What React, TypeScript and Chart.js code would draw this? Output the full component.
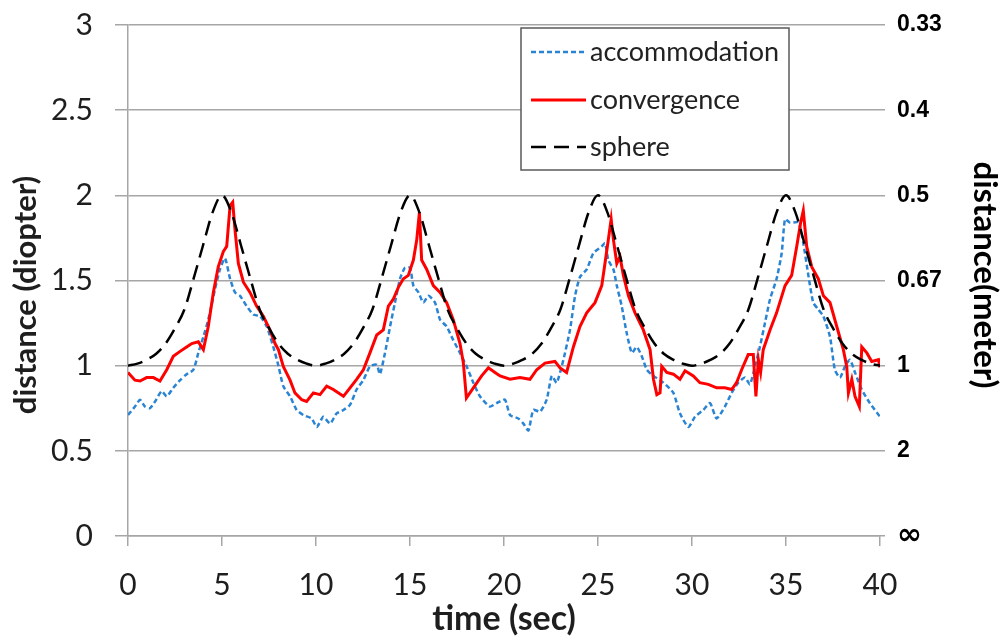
import React, { useEffect, useRef } from 'react';
import { Chart, registerables } from 'chart.js';

Chart.register(...registerables);

const seriesLabels = ['accommodation', 'convergence', 'sphere'];
const axisTitles = { x: 'time (sec)', left: 'distance (diopter)', right: 'distance(meter)' };

const accTime = [0, 0.37, 0.64, 0.9, 1.17, 1.44, 1.79, 2.06, 2.41, 2.77, 3.12, 3.48, 3.74, 4.01, 4.27, 4.63, 4.89, 5.16, 5.43, 5.69, 5.96, 6.31, 6.67, 7.02, 7.38, 7.73, 8.0, 8.26, 8.62, 8.97, 9.33, 9.77, 10.04, 10.39, 10.75, 11.1, 11.46, 11.81, 12.16, 12.52, 12.87, 13.23, 13.4, 13.67, 13.94, 14.2, 14.47, 14.73, 15.0, 15.18, 15.45, 15.71, 15.98, 16.33, 16.6, 16.95, 17.3, 17.66, 18.01, 18.37, 18.72, 19.25, 19.61, 20.05, 20.32, 20.76, 21.03, 21.3, 21.56, 21.92, 22.27, 22.54, 22.8, 23.16, 23.51, 23.78, 24.04, 24.4, 24.75, 25.2, 25.37, 25.55, 25.82, 26.0, 26.26, 26.53, 26.8, 27.06, 27.33, 27.6, 27.95, 28.48, 29.01, 29.36, 29.81, 30.16, 30.6, 30.96, 31.31, 31.75, 32.11, 32.46, 32.82, 33.08, 33.35, 33.61, 33.88, 34.15, 34.5, 34.77, 34.95, 35.21, 35.66, 35.92, 36.19, 36.45, 36.72, 36.99, 37.34, 37.6, 37.87, 38.14, 38.4, 38.67, 39.03, 39.46, 40.0];
const accVal = [0.71, 0.76, 0.80, 0.76, 0.75, 0.79, 0.85, 0.82, 0.87, 0.915, 0.95, 0.976, 1.075, 1.17, 1.27, 1.45, 1.565, 1.63, 1.51, 1.43, 1.41, 1.35, 1.30, 1.29, 1.23, 1.11, 1.0, 0.88, 0.82, 0.74, 0.71, 0.69, 0.64, 0.70, 0.66, 0.72, 0.74, 0.77, 0.86, 0.915, 0.996, 1.005, 0.95, 1.075, 1.23, 1.37, 1.51, 1.575, 1.575, 1.47, 1.43, 1.37, 1.41, 1.37, 1.27, 1.23, 1.15, 1.075, 0.996, 0.90, 0.82, 0.76, 0.78, 0.80, 0.71, 0.69, 0.66, 0.62, 0.74, 0.73, 0.80, 0.94, 0.90, 1.035, 1.21, 1.41, 1.52, 1.565, 1.66, 1.70, 1.72, 1.62, 1.565, 1.47, 1.35, 1.19, 1.075, 1.11, 1.055, 0.976, 0.94, 0.90, 0.84, 0.72, 0.64, 0.70, 0.74, 0.78, 0.69, 0.76, 0.84, 0.90, 0.93, 0.89, 0.996, 1.11, 1.25, 1.39, 1.51, 1.66, 1.86, 1.84, 1.84, 1.72, 1.53, 1.37, 1.33, 1.29, 1.17, 0.976, 0.93, 0.996, 1.035, 0.96, 0.86, 0.78, 0.70];

const convTime = [0, 0.37, 0.64, 0.99, 1.35, 1.7, 2.06, 2.41, 2.77, 3.12, 3.39, 3.74, 4.01, 4.27, 4.54, 4.8, 5.07, 5.25, 5.43, 5.57, 5.69, 5.87, 6.14, 6.49, 6.84, 7.2, 7.55, 7.82, 8.0, 8.26, 8.62, 8.88, 9.24, 9.5, 9.86, 10.21, 10.57, 10.92, 11.46, 11.81, 12.16, 12.52, 12.87, 13.23, 13.58, 13.85, 14.11, 14.38, 14.65, 14.91, 15.18, 15.36, 15.5, 15.62, 15.89, 16.24, 16.6, 16.95, 17.3, 17.66, 17.84, 18.0, 18.37, 18.81, 19.17, 19.52, 19.79, 20.32, 20.85, 21.38, 21.74, 22.18, 22.71, 22.98, 23.33, 23.69, 24.04, 24.4, 24.84, 25.2, 25.37, 25.55, 25.7, 25.82, 26.0, 26.17, 26.35, 26.62, 26.97, 27.41, 27.77, 27.95, 28.13, 28.3, 28.39, 28.66, 29.01, 29.36, 29.63, 30.07, 30.42, 30.87, 31.31, 31.75, 32.11, 32.37, 32.64, 32.99, 33.26, 33.4, 33.53, 33.65, 33.79, 34.15, 34.5, 34.95, 35.3, 35.57, 35.78, 35.92, 36.1, 36.37, 36.72, 36.99, 37.34, 37.7, 38.05, 38.23, 38.32, 38.5, 38.67, 38.9, 39.03, 39.3, 39.56, 39.92, 40.0];
const convVal = [0.96, 0.915, 0.91, 0.93, 0.93, 0.91, 0.976, 1.055, 1.084, 1.11, 1.13, 1.14, 1.094, 1.23, 1.43, 1.58, 1.67, 1.70, 1.94, 1.96, 1.80, 1.60, 1.49, 1.43, 1.35, 1.29, 1.21, 1.13, 1.094, 0.996, 0.915, 0.84, 0.80, 0.79, 0.84, 0.83, 0.88, 0.86, 0.82, 0.87, 0.92, 0.976, 1.075, 1.18, 1.21, 1.35, 1.39, 1.46, 1.51, 1.53, 1.62, 1.74, 1.90, 1.62, 1.565, 1.47, 1.43, 1.37, 1.27, 1.13, 1.015, 0.81, 0.87, 0.94, 0.987, 0.96, 0.94, 0.92, 0.93, 0.92, 0.976, 1.015, 1.025, 0.987, 0.96, 1.11, 1.23, 1.31, 1.37, 1.47, 1.60, 1.74, 1.86, 1.74, 1.60, 1.64, 1.53, 1.41, 1.31, 1.21, 1.094, 0.92, 0.83, 0.84, 0.996, 0.96, 0.95, 0.92, 0.97, 0.94, 0.90, 0.89, 0.87, 0.87, 0.86, 0.90, 0.976, 1.065, 1.065, 0.82, 1.035, 0.96, 1.094, 1.21, 1.31, 1.47, 1.53, 1.70, 1.84, 1.91, 1.70, 1.58, 1.51, 1.41, 1.37, 1.23, 1.094, 0.996, 0.84, 0.92, 0.82, 0.76, 1.11, 1.075, 1.025, 1.035, 0.99];

const sphereTime = [0, 0.5, 1, 1.5, 2, 2.5, 3, 3.5, 4, 4.5, 5, 5.5, 6, 6.5, 7, 7.5, 8, 8.5, 9, 9.5, 10, 10.5, 11, 11.5, 12, 12.5, 13, 13.5, 14, 14.5, 15, 15.5, 16, 16.5, 17, 17.5, 18, 18.5, 19, 19.5, 20, 20.5, 21, 21.5, 22, 22.5, 23, 23.5, 24, 24.5, 25, 25.5, 26, 26.5, 27, 27.5, 28, 28.5, 29, 29.5, 30, 30.5, 31, 31.5, 32, 32.5, 33, 33.5, 34, 34.5, 35, 35.5, 36, 36.5, 37, 37.5, 38, 38.5, 39, 39.5, 40];
const sphereVal = [
  1.0, 1.012, 1.035, 1.07, 1.13, 1.22, 1.33, 1.515, 1.71, 1.9, 2.0, 1.9, 1.71, 1.515, 1.33, 1.22, 1.13, 1.07, 1.035, 1.012,
  1.0, 1.012, 1.035, 1.07, 1.13, 1.22, 1.33, 1.515, 1.71, 1.9, 2.0, 1.9, 1.71, 1.515, 1.33, 1.22, 1.13, 1.07, 1.035, 1.012,
  1.0, 1.012, 1.035, 1.07, 1.13, 1.22, 1.33, 1.515, 1.71, 1.9, 2.0, 1.9, 1.71, 1.515, 1.33, 1.22, 1.13, 1.07, 1.035, 1.012,
  1.0, 1.012, 1.035, 1.07, 1.13, 1.22, 1.33, 1.515, 1.71, 1.9, 2.0, 1.9, 1.71, 1.515, 1.33, 1.22, 1.13, 1.07, 1.035, 1.012,
  1.0,
];

const rightTickValues = [0, 0.5, 1, 1.5, 2, 2.5, 3];
const rightTickLabels = ['∞', '2', '1', '0.67', '0.5', '0.4', '0.33'];

const toPoints = (xs: number[], ys: number[]) => xs.map((x, i) => ({ x, y: ys[i] }));

const GRID = '#a6a6a6';
const TEXT = '#1e1e1e';
const FONT = 'Lato, "Open Sans", sans-serif';

const legendPlugin = {
  id: 'boxLegend',
  afterDatasetsDraw(chart: any) {
    const { ctx, chartArea } = chart;
    const bx = chartArea.left + 393;
    const by = chartArea.top + 3;
    const bw = 268;
    const bh = 142;
    ctx.save();
    ctx.fillStyle = '#ffffff';
    ctx.fillRect(bx, by, bw, bh);
    ctx.strokeStyle = '#5a5a5a';
    ctx.lineWidth = 1.5;
    ctx.strokeRect(bx, by, bw, bh);
    const rowY = [24, 72, 119];
    chart.data.datasets.forEach((ds: any, i: number) => {
      const y = by + rowY[i];
      ctx.beginPath();
      ctx.strokeStyle = ds.borderColor;
      ctx.lineWidth = ds.borderWidth;
      ctx.setLineDash(ds.legendDash || []);
      ctx.moveTo(bx + 10, y);
      ctx.lineTo(bx + 65, y);
      ctx.stroke();
      ctx.setLineDash([]);
      ctx.fillStyle = '#222';
      ctx.font = `27px ${FONT}`;
      ctx.textBaseline = 'middle';
      ctx.textAlign = 'left';
      ctx.fillText(ds.label, bx + 69, y);
    });
    ctx.restore();
  },
};

const titlePlugin = {
  id: 'axisTitles',
  afterDraw(chart: any) {
    const { ctx, chartArea } = chart;
    ctx.save();
    ctx.textAlign = 'center';
    ctx.textBaseline = 'middle';
    ctx.fillStyle = TEXT;
    ctx.font = `bold 31px ${FONT}`;
    ctx.save();
    ctx.translate(26, chartArea.top + 270);
    ctx.rotate(-Math.PI / 2);
    ctx.fillText(axisTitles.left, 0, 0);
    ctx.restore();
    ctx.fillStyle = '#000';
    ctx.font = `bold 33px ${FONT}`;
    ctx.save();
    ctx.translate(985, chartArea.top + 250);
    ctx.rotate(Math.PI / 2);
    ctx.fillText(axisTitles.right, 0, 0);
    ctx.restore();
    ctx.fillStyle = TEXT;
    ctx.font = `bold 34px ${FONT}`;
    ctx.fillText(axisTitles.x, (chartArea.left + chartArea.right) / 2, chartArea.bottom + 83);
    ctx.restore();
  },
};

export default function App() {
  const ref = useRef<HTMLCanvasElement | null>(null);

  useEffect(() => {
    if (!ref.current) return;
    const chart = new Chart(ref.current, {
      type: 'line',
      data: {
        datasets: [
          {
            label: seriesLabels[0],
            data: toPoints(accTime, accVal),
            borderColor: '#2a84d4',
            borderWidth: 2.5,
            borderDash: [5, 3],
            legendDash: [5, 3],
            pointRadius: 0,
            tension: 0.2,
            order: 3,
          } as any,
          {
            label: seriesLabels[1],
            data: toPoints(convTime, convVal),
            borderColor: '#ff0000',
            borderWidth: 3,
            pointRadius: 0,
            tension: 0,
            order: 2,
          } as any,
          {
            label: seriesLabels[2],
            data: toPoints(sphereTime, sphereVal),
            borderColor: '#000000',
            borderWidth: 2.5,
            borderDash: [15, 8],
            legendDash: [15, 8],
            pointRadius: 0,
            cubicInterpolationMode: 'monotone',
            order: 1,
          } as any,
        ],
      },
      options: {
        animation: false,
        responsive: false,
        devicePixelRatio: 1,
        layout: { padding: { top: 25, left: 0, right: 0, bottom: 0 } },
        plugins: { legend: { display: false }, tooltip: { enabled: false } },
        scales: {
          x: {
            type: 'linear',
            min: 0,
            max: 40,
            afterFit: (s: any) => { s.height = 106; s.paddingLeft = 0; s.paddingRight = 0; },
            ticks: { stepSize: 5, color: TEXT, font: { family: FONT, size: 30 }, padding: 21, maxRotation: 0 },
            grid: { drawOnChartArea: false, drawTicks: true, tickLength: 10, color: GRID, lineWidth: 1.5 },
            border: { display: true, color: GRID, width: 1.5 },
            title: { display: false },
          },
          y: {
            type: 'linear',
            position: 'left',
            min: 0,
            max: 3,
            afterFit: (s: any) => { s.width = 128; s.paddingTop = 0; s.paddingBottom = 0; },
            ticks: {
              stepSize: 0.5,
              color: TEXT,
              font: { family: FONT, size: 30 },
              padding: 22,
              callback: (v: any) => String(Number(v)),
            },
            grid: { color: GRID, lineWidth: 1.5, tickLength: 13, drawTicks: true },
            border: { display: true, color: GRID, width: 1.5 },
            title: { display: false },
          },
          y2: {
            type: 'linear',
            position: 'right',
            min: 0,
            max: 3,
            afterFit: (s: any) => { s.width = 126; s.paddingTop = 0; s.paddingBottom = 0; },
            ticks: {
              stepSize: 0.5,
              color: '#000',
              font: (c: any) =>
                c.tick && c.tick.value === 0
                  ? { family: '"DejaVu Sans", sans-serif', size: 30, weight: 'bold' }
                  : { family: '"Liberation Sans", Arial, sans-serif', size: 23, weight: 'bold' },
              padding: 12,
              callback: (v: any) => rightTickLabels[rightTickValues.indexOf(Number(v))] ?? '',
            },
            grid: { drawOnChartArea: false, drawTicks: true, tickLength: 5, color: GRID, lineWidth: 1.5 },
            border: { display: false },
            title: { display: false },
          },
        },
      },
      plugins: [legendPlugin, titlePlugin],
    } as any);
    return () => chart.destroy();
  }, []);

  return (
    <div style={{ position: 'fixed', left: 0, top: 0, width: 1006, height: 642, background: '#fff' }}>
      <canvas ref={ref} width={1006} height={642} />
    </div>
  );
}
